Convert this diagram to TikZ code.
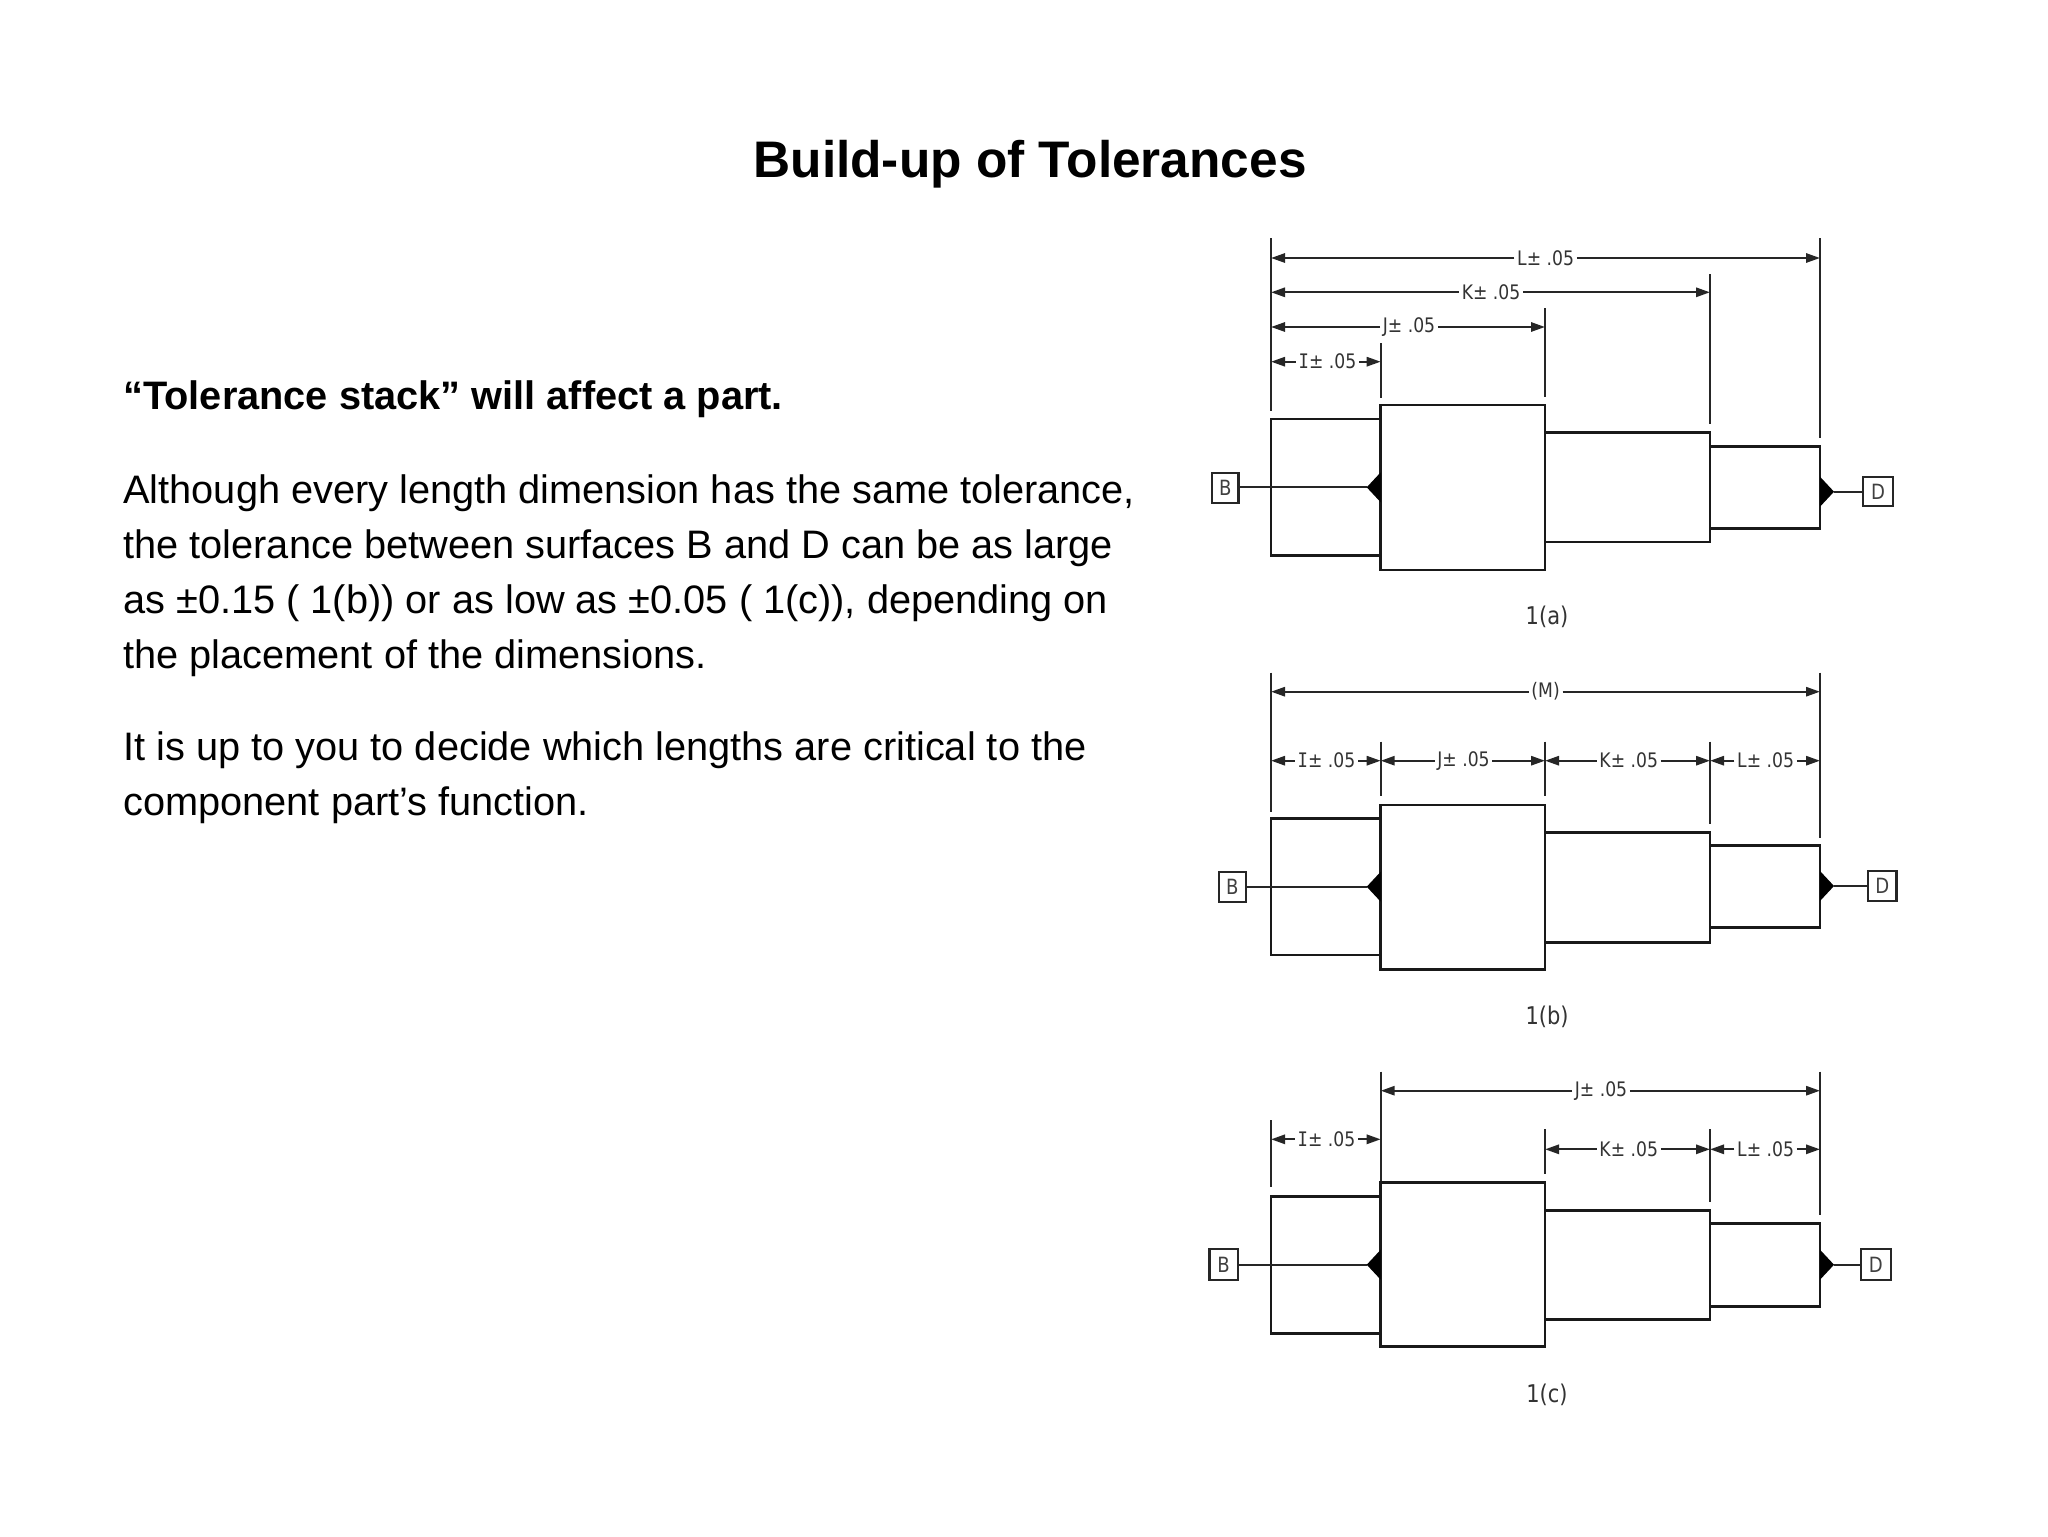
\documentclass[tikz,border=0pt]{standalone}
\usepackage{fontspec}
\setmainfont{Liberation Sans}
\newfontfamily\dimfont[FakeStretch=0.86]{DejaVu Sans}
\newfontfamily\dimmono[FakeStretch=0.86]{DejaVu Sans Mono}
\usetikzlibrary{arrows.meta}
\tikzset{
  bodytext/.style={anchor=base west,inner sep=0pt,font=\fontsize{19.87}{23}\selectfont,text=black},
  titletext/.style={anchor=base,inner sep=0pt,font=\fontsize{25.7}{29}\selectfont\bfseries,text=black},
  dimlabel/.style={fill=white,inner sep=1.2pt,font=\dimfont\fontsize{10}{11}\selectfont,text=black!80},
  caption/.style={inner sep=0pt,font=\dimfont\fontsize{12.2}{14}\selectfont,text=black!80},
  dimline/.style={line width=1.15pt,draw=black!85,-{Triangle[length=7pt,width=4.6pt]}},
  extline/.style={line width=1.1pt,draw=black!85},
  partline/.style={line width=1.35pt,draw=black!90,line cap=rect},
  datumbox/.style={draw=black!85,line width=1.15pt,fill=white,inner sep=0pt,font=\dimfont\fontsize{10.5}{11}\selectfont,text=black!75},
  leader/.style={line width=1.1pt,draw=black!85}
}
\newcommand{\Iletter}{{\dimmono\fontsize{10}{11}\selectfont I}}
% name, x left, x right, y, x centre, text
\newcommand{\dimrow}[6]{%
  \coordinate (#1l) at (#2,#4);
  \coordinate (#1r) at (#3,#4);
  \node[dimlabel] (#1) at (#5,#4) {#6};
  \draw[dimline] (#1) -- (#1l);
  \draw[dimline] (#1) -- (#1r);
}
% name, x, y top, y bottom
\newcommand{\extn}[4]{%
  \coordinate (#1t) at (#2,#3);
  \coordinate (#1b) at (#2,#4);
  \draw[extline] (#1t) -- (#1b);
}
% prefix, eight heights
\newcommand{\stepshaft}[9]{%
  \draw[partline] (1380.7,#2) -- (1271,#2) -- (1271,#3) -- (1380.7,#3);
  \draw[partline] (1380.7,#4) rectangle (1545,#5);
  \draw[partline] (1545,#6) -- (1710,#6) -- (1710,#7) -- (1545,#7);
  \draw[partline] (1710,#8) -- (1820,#8) -- (1820,#9) -- (1710,#9);
}
% prefix, y tip B, B x1, B x2, B y1, B y2, y tip D
\newcommand{\datums}[7]{%
  \coordinate (#1tb) at (1366.7,#2);
  \node[datumbox,minimum width=#4*0.5pt-#3*0.5pt,minimum height=#6*0.5pt-#5*0.5pt] (#1B) at ({(#3+#4)/2},{(#5+#6)/2}) {B};
  \draw[leader] (#1B.east |- #1tb) -- (#1tb);
  \fill[black] (1380.7,#2-15) -- (#1tb) -- (1380.7,#2+15) -- cycle;
  \coordinate (#1td) at (1834,#7);
  \fill[black] (1820,#7-15) -- (#1td) -- (1820,#7+15) -- cycle;
}
% prefix, x1,x2,y1,y2, y tip D
\newcommand{\datumD}[6]{%
  \node[datumbox,minimum width=#3*0.5pt-#2*0.5pt,minimum height=#5*0.5pt-#4*0.5pt] (#1D) at ({(#2+#3)/2},{(#4+#5)/2}) {D};
  \draw[leader] (#1td) -- (#1D.west |- #1td);
}
\begin{document}
\begin{tikzpicture}[x=0.5pt,y=-0.5pt]
\useasboundingbox (0,0) rectangle (2048,1536);
\fill[white] (0,0) rectangle (2048,1536);

\node[titletext] (title) at (1030,177.5) {Build-up of Tolerances};
\node[bodytext,font=\fontsize{19.87}{23}\selectfont\bfseries] (t1) at (123,409) {“Tolerance stack” will affect a part.};
\node[bodytext] (t2) at (123,503) {Although every length dimension has the same tolerance,};
\node[bodytext] (t3) at (123,558) {the tolerance between surfaces B and D can be as large};
\node[bodytext] (t4) at (123,613) {as ±0.15 ( 1(b)) or as low as ±0.05 ( 1(c)), depending on};
\node[bodytext] (t5) at (123,668) {the placement of the dimensions.};
\node[bodytext] (t6) at (123,760) {It is up to you to decide which lengths are critical to the};
\node[bodytext] (t7) at (123,815) {component part’s function.};

% ---------- 1(a)
\extn{ae0}{1271}{238}{410.7}
\extn{ae1}{1380.7}{343}{398}
\extn{ae2}{1545}{308}{397}
\extn{ae3}{1710}{274}{424}
\extn{ae4}{1820}{238}{438}
\dimrow{aL}{1271}{1820}{258}{1545.6}{L± .05}
\dimrow{aK}{1271}{1710}{292.3}{1491}{K± .05}
\dimrow{aJ}{1271}{1545}{327}{1409}{J± .05}
\dimrow{aI}{1271}{1380.7}{361.7}{1327.5}{\Iletter± .05}
\stepshaft{a}{419}{555.7}{405}{570}{432.3}{542}{446.7}{528.3}
\datums{a}{487.3}{1212}{1238.5}{473}{503}{491.7}
\datumD{a}{1863}{1893}{476.7}{506}{491.7}
\node[caption] (capa) at (1547,617) {1(a)};

% ---------- 1(b)
\extn{be0}{1271}{672.7}{811.7}
\extn{be1}{1380.7}{741.7}{796}
\extn{be2}{1545}{741.7}{796}
\extn{be3}{1710}{741.7}{824}
\extn{be4}{1820}{672.7}{838}
\dimrow{bM}{1271}{1820}{691.7}{1545.6}{(M)}
\dimrow{bI}{1271}{1380.7}{760.7}{1326.5}{\Iletter± .05}
\dimrow{bJ}{1380.7}{1545}{760.7}{1463.5}{J± .05}
\dimrow{bK}{1545}{1710}{760.7}{1628.7}{K± .05}
\dimrow{bL}{1710}{1820}{760.7}{1765.6}{L± .05}
\stepshaft{b}{818.3}{955}{805}{969.3}{832.3}{942.3}{845.3}{927.7}
\datums{b}{886.7}{1219}{1245.8}{872.3}{901.7}{886}
\datumD{b}{1868}{1896.4}{871}{900.7}{886}
\node[caption] (capb) at (1547,1016.7) {1(b)};

% ---------- 1(c)
\extn{ce0}{1271}{1120}{1187.3}
\extn{ce1}{1380.7}{1071.7}{1182.7}
\extn{ce2}{1545}{1129.3}{1174}
\extn{ce3}{1710}{1129.3}{1201.7}
\extn{ce4}{1820}{1071.7}{1215}
\dimrow{cJ}{1380.7}{1820}{1090.7}{1601}{J± .05}
\dimrow{cI}{1271}{1380.7}{1139.3}{1326.5}{\Iletter± .05}
\dimrow{cK}{1545}{1710}{1149.3}{1628.7}{K± .05}
\dimrow{cL}{1710}{1820}{1149.3}{1765.6}{L± .05}
\stepshaft{c}{1196.7}{1333.3}{1182.7}{1346.7}{1210.7}{1319.3}{1223.7}{1306.3}
\datums{c}{1264.7}{1209.4}{1237.8}{1249.3}{1280}{1264.7}
\datumD{c}{1861}{1890.8}{1249.3}{1280}{1264.7}
\node[caption] (capc) at (1547,1395) {1(c)};
\end{tikzpicture}
\end{document}
